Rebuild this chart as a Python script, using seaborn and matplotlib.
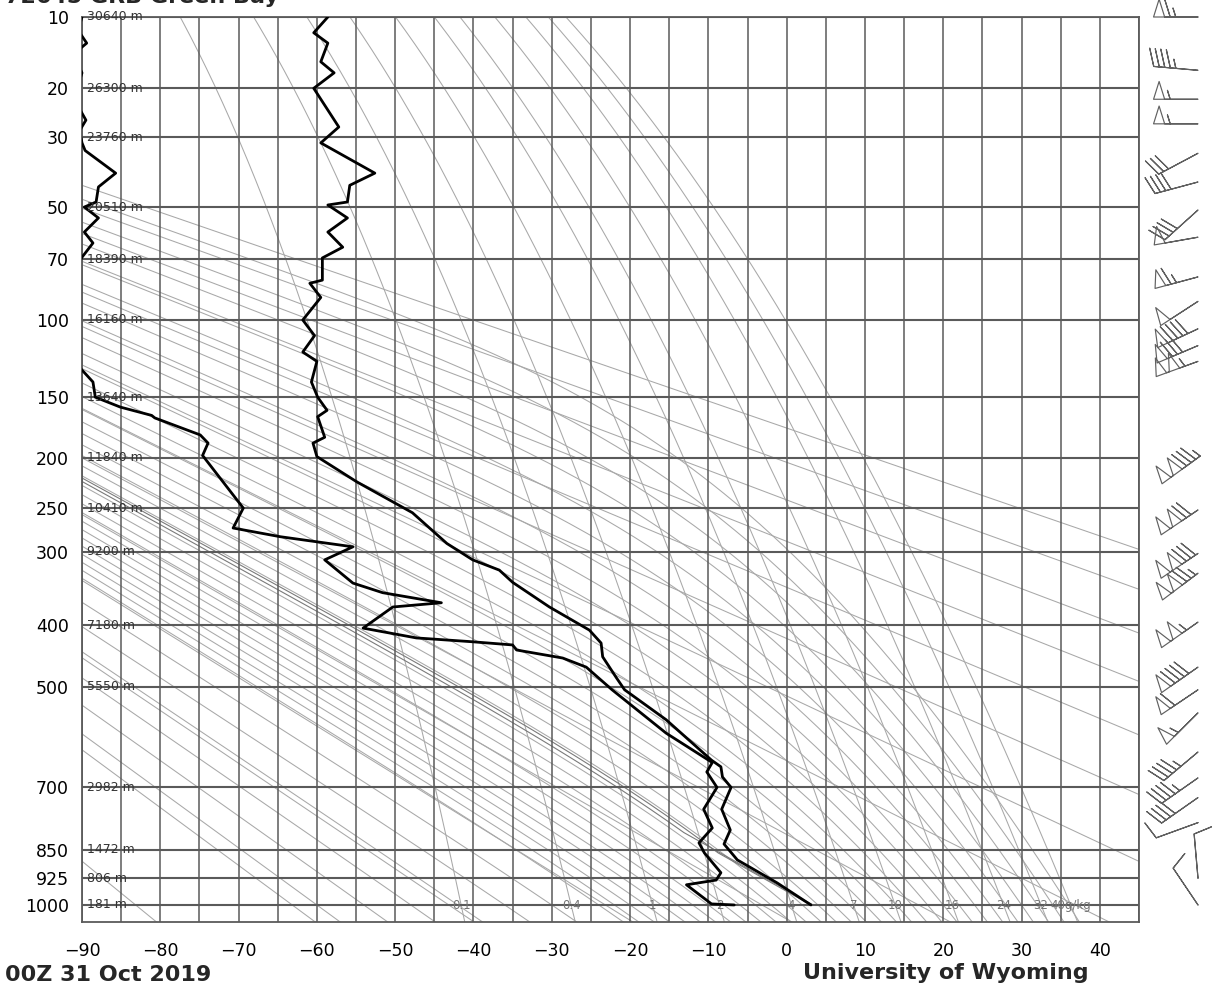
import numpy as np
import pandas as pd
import matplotlib
matplotlib.use("Agg")
import matplotlib.pyplot as plt
import seaborn as sns

sns.set_theme(style="white")
plt.rcParams["font.family"] = ["DejaVu Sans"]
plt.rcParams["axes.unicode_minus"] = True

# ---------------- chart content ----------------
station_title = "72645 GRB Green Bay"
time_label = "00Z 31 Oct 2019"
source_label = "University of Wyoming"

# temperature profile (hPa, degC), surface upward
temp_pres = [1000, 938, 876, 835, 800, 750, 700, 677, 655, 641, 560, 505,
             485, 449, 427, 407, 373, 339, 323, 310, 290, 255, 223, 199,
             187, 182, 165, 160, 150, 139, 125, 119, 109, 100, 88, 81,
             79.5, 69.5, 65, 59, 53.8, 49.3, 48.3, 43, 39.4, 31.4, 27.7,
             20, 17.4, 15.7, 13.1, 11.8, 10]
temp_c = [3.1, -1.2, -6.3, -8.0, -7.2, -8.3, -7.1, -8.2, -8.4, -9.6, -15.4, -20.7,
          -21.7, -23.5, -23.7, -25.2, -30.3, -35.0, -36.7, -40.1, -43.4, -47.8, -54.9, -60.0,
          -60.5, -59.0, -59.9, -58.7, -59.9, -60.7, -60.0, -61.8, -60.3, -61.8, -59.5, -60.9,
          -59.3, -59.3, -56.7, -58.6, -56.1, -58.6, -56.1, -55.8, -52.6, -59.5, -57.2,
          -60.4, -57.8, -59.5, -58.6, -60.4, -58.6]

# dewpoint profile (hPa, degC)
dwpt_pres = [1000, 997, 943, 930, 910, 858, 832, 795, 750, 700, 666, 646,
             586, 523, 505, 466, 451, 438, 430, 425, 419, 404, 373, 367,
             353, 340, 310, 294, 282, 272, 250, 198, 187, 180, 166, 164,
             157.5, 150, 139, 129, 115, 100, 80, 69.2, 63.3, 59, 53.8, 50,
             48.3, 43.5, 39.4, 33.3, 31.4, 28.5, 26.2, 22, 17.4, 15, 13.8,
             13.1, 11.5, 10]
dwpt_c = [-6.7, -9.6, -12.8, -9.0, -8.4, -10.5, -11.2, -9.5, -10.6, -8.9, -10.2, -9.5,
          -15.4, -20.7, -22.3, -25.6, -28.6, -34.5, -35.0, -40.1, -47.3, -54.1, -50.3, -44.1,
          -51.6, -55.4, -59.0, -55.4, -64.7, -70.7, -69.4, -74.6, -73.9, -74.9, -80.7, -81.1,
          -85.1, -88.3, -88.6, -90.3, -91.5, -92.0, -91.5, -90.0, -88.6, -89.7, -87.9, -89.7,
          -88.2, -87.9, -85.7, -89.6, -90.0, -90.3, -89.5, -91.0, -90.0, -91.0, -90.2,
          -89.4, -90.5, -90.0]

# mandatory levels and their heights
level_pres = [10, 20, 30, 50, 70, 100, 150, 200, 250, 300, 400, 500, 700, 850, 925, 1000]
level_hgt = ["30640 m", "26300 m", "23760 m", "20510 m", "18390 m", "16160 m",
             "13640 m", "11840 m", "10410 m", "9200 m", "7180 m", "5550 m",
             "2982 m", "1472 m", "806 m", "181 m"]

temp_ticks = [-90, -80, -70, -60, -50, -40, -30, -20, -10, 0, 10, 20, 30, 40]

# background families
mixing_ratio_gkg = [0.1, 0.4, 1, 2, 4, 7, 10, 16, 24, 32, 40]
mixing_ratio_text = ["0.1", "0.4", "1", "2", "4", "7", "10", "16", "24", "32", "40g/kg"]
dry_theta_k = [190, 210, 230, 250, 270, 290, 310, 330, 350, 370, 390, 410, 430, 450]
moist_thetaw_c = [-60, -54, -48, -42, -36, -30] + list(range(-24, 37, 2))

# winds (hPa, direction deg, speed kt)
wind_pres = [1000, 925, 782, 723, 679, 624, 547, 505, 466, 395, 327, 302, 252, 200,
             125, 115, 105, 90, 78, 61, 51, 42, 34, 27, 22, 17, 10]
wind_dir = [326, 355, 250, 235, 235, 230, 225, 236, 235, 235, 233, 236, 236, 234,
            250, 247, 245, 237, 255, 260, 228, 255, 242, 270, 270, 275, 270]
wind_kt = [10, 10, 10, 40, 45, 45, 55, 60, 90, 105, 125, 130, 120, 135,
           105, 80, 90, 50, 65, 50, 40, 40, 30, 55, 55, 45, 65]

assert len(temp_pres) == len(temp_c)
assert len(dwpt_pres) == len(dwpt_c)
assert len(wind_pres) == len(wind_dir) == len(wind_kt)

# ---------------- thermodynamics ----------------
KAPPA = 0.2857
RD, CP, LV, EPS = 287.04, 1005.7, 2.501e6, 0.622
P_TOP, P_BOT = 10.0, 1050.0
T_LEFT, T_RIGHT = -90.0, 45.0


def sat_vp(tc):
    return 6.112 * np.exp(17.67 * tc / (tc + 243.5))


def dewpoint_from_e(e):
    lnr = np.log(e / 6.112)
    return 243.5 * lnr / (17.67 - lnr)


def moist_lapse(p, tk):
    es = sat_vp(tk - 273.15)
    rs = EPS * es / (p - es)
    return (RD * tk + LV * rs) / (p * (CP + LV * LV * rs * EPS / (RD * tk * tk)))


def moist_adiabat(t_start_c, p_start, p_end, n=500):
    ps = np.geomspace(p_start, p_end, n)
    tk = np.atleast_1d(np.asarray(t_start_c, float)) + 273.15
    out = [tk.copy()]
    for i in range(n - 1):
        p0, p1 = ps[i], ps[i + 1]
        h = p1 - p0
        k1 = moist_lapse(p0, tk)
        k2 = moist_lapse(p0 + h / 2, tk + h / 2 * k1)
        k3 = moist_lapse(p0 + h / 2, tk + h / 2 * k2)
        k4 = moist_lapse(p1, tk + h * k3)
        tk = tk + h / 6 * (k1 + 2 * k2 + 2 * k3 + k4)
        out.append(tk.copy())
    return ps, np.array(out) - 273.15


def parcel_path(p0, t0, w):
    theta = (t0 + 273.15) * (1000.0 / p0) ** KAPPA
    ps = np.geomspace(p0, P_TOP, 900)
    t_dry = theta * (ps / 1000.0) ** KAPPA - 273.15
    td_line = dewpoint_from_e(w * ps / (EPS + w))
    i = int(np.argmax(t_dry <= td_line))
    pm, tm = moist_adiabat(t_dry[i], ps[i], P_TOP, 600)
    return np.r_[ps[:i + 1], pm], np.r_[t_dry[:i + 1], tm[:, 0]]


# ---------------- figure ----------------
W, H = 1230, 990
fig = plt.figure(figsize=(W / 100, H / 100), dpi=100)
ax_l, ax_r, ax_t, ax_b = 82, 1139, 17, 922
ax = fig.add_axes([ax_l / W, 1 - ax_b / H, (ax_r - ax_l) / W, (ax_b - ax_t) / H])


def fwd(p):
    p = np.asarray(p, float)
    return np.sign(p) * np.abs(p) ** KAPPA


def inv(y):
    y = np.asarray(y, float)
    return np.sign(y) * np.abs(y) ** (1 / KAPPA)


ax.set_yscale("function", functions=(fwd, inv))
ax.set_ylim(P_BOT, P_TOP)
ax.set_xlim(T_LEFT, T_RIGHT)

light = "#a8a8a8"
p_grid = np.geomspace(P_BOT, P_TOP, 400)

# dry adiabats
for th in dry_theta_k:
    ax.plot(th * (p_grid / 1000.0) ** KAPPA - 273.15, p_grid, color=light, lw=0.75, zorder=1)

# moist adiabats (integrate from 1000 hPa up and down)
pu, tu = moist_adiabat(moist_thetaw_c, 1000.0, P_TOP, 500)
pdn, tdn = moist_adiabat(moist_thetaw_c, 1000.0, P_BOT, 20)
for j in range(len(moist_thetaw_c)):
    pp = np.r_[pdn[::-1], pu[1:]]
    tt = np.r_[tdn[::-1, j], tu[1:, j]]
    ax.plot(tt, pp, color=light, lw=0.75, zorder=1)

# mixing ratio lines
for w in mixing_ratio_gkg:
    wk = w / 1000.0
    ax.plot(dewpoint_from_e(wk * p_grid / (EPS + wk)), p_grid, color=light, lw=0.75, zorder=1)
for w, txt in zip(mixing_ratio_gkg, mixing_ratio_text):
    wk = w / 1000.0
    xt = dewpoint_from_e(wk * 1000.0 / (EPS + wk))
    ax.text(xt, 1001, txt, ha="center", va="center", fontsize=8.5, color="#747474", zorder=3)

# parcel paths: surface parcel and lowest-50-hPa mixed parcel
w_sfc = EPS * sat_vp(dwpt_c[0]) / (dwpt_pres[0] - sat_vp(dwpt_c[0]))
pp1, tp1 = parcel_path(temp_pres[0], temp_c[0], w_sfc)
ml_p = np.linspace(1000, 950, 11)
ml_t = np.interp(ml_p, temp_pres[::-1], temp_c[::-1])
ml_td = np.interp(ml_p, dwpt_pres[::-1], dwpt_c[::-1])
ml_theta = np.mean((ml_t + 273.15) * (1000.0 / ml_p) ** KAPPA) - 273.15
ml_w = np.mean(EPS * sat_vp(ml_td) / (ml_p - sat_vp(ml_td)))
pp2, tp2 = parcel_path(1000.0, ml_theta, ml_w)
ax.plot(tp1, pp1, color="#7a7a7a", lw=0.8, zorder=2)
ax.plot(tp2, pp2, color="#7a7a7a", lw=0.8, zorder=2)

# isotherms and isobars
grid_c = "#5a5a5a"
ax.vlines(np.arange(T_LEFT, T_RIGHT + 0.1, 5), P_TOP, P_BOT, colors=grid_c, lw=1.1, zorder=2)
ax.hlines(level_pres, T_LEFT, T_RIGHT, colors=grid_c, lw=1.5, zorder=2)

# soundings with seaborn
snd_t = pd.DataFrame({"T": temp_c, "p": temp_pres})
snd_d = pd.DataFrame({"T": dwpt_c, "p": dwpt_pres})
sns.lineplot(data=snd_t, x="T", y="p", sort=False, estimator=None, color="black",
             lw=2.0, ax=ax, zorder=5)
sns.lineplot(data=snd_d, x="T", y="p", sort=False, estimator=None, color="black",
             lw=2.0, ax=ax, zorder=5)

# height labels
for p, h in zip(level_pres, level_hgt):
    ax.text(-89.3, p, h, ha="left", va="center", fontsize=9, color="#333333", zorder=6)

# axes decoration
ax.set_xlabel("")
ax.set_ylabel("")
ax.set_yticks(level_pres)
ax.set_yticklabels([str(p) for p in level_pres])
ax.yaxis.set_minor_locator(matplotlib.ticker.NullLocator())
ax.set_xticks(temp_ticks)
ax.set_xticklabels([("\u2212" + str(-t)) if t < 0 else str(t) for t in temp_ticks])
ax.tick_params(axis="y", length=0, pad=9.5, labelsize=12.5, labelcolor="black")
ax.tick_params(axis="x", length=0, pad=14.5, labelsize=12.5, labelcolor="black")
for s in ax.spines.values():
    s.set_color(grid_c)
    s.set_linewidth(1.3)
ax.grid(False)

# wind barbs in a strip to the right
bx = fig.add_axes([ax_r / W, 1 - ax_b / H, (W - ax_r) / W, (ax_b - ax_t) / H])
bx.set_yscale("function", functions=(fwd, inv))
bx.set_ylim(P_BOT, P_TOP)
bx.set_xlim(-(1198 - ax_r), W - 1198)
bx.axis("off")
rad = np.deg2rad(wind_dir)
u = -np.array(wind_kt) * np.sin(rad)
v = -np.array(wind_kt) * np.cos(rad)
bx.barbs(np.zeros(len(wind_pres)), wind_pres, u, v, length=8,
         barbcolor="#606060", flagcolor="none", linewidth=0.85, clip_on=False)

# texts
fig.text(5 / W, 1 - 3 / H, station_title, ha="left", va="baseline",
         fontsize=16, fontweight="bold")
fig.text(5 / W, 1 - 981 / H, time_label, ha="left", va="baseline",
         fontsize=16, fontweight="bold")
fig.text(803 / W, 1 - 979 / H, source_label, ha="left", va="baseline",
         fontsize=16, fontweight="bold")

fig.savefig("out.png", dpi=100, facecolor="white")
